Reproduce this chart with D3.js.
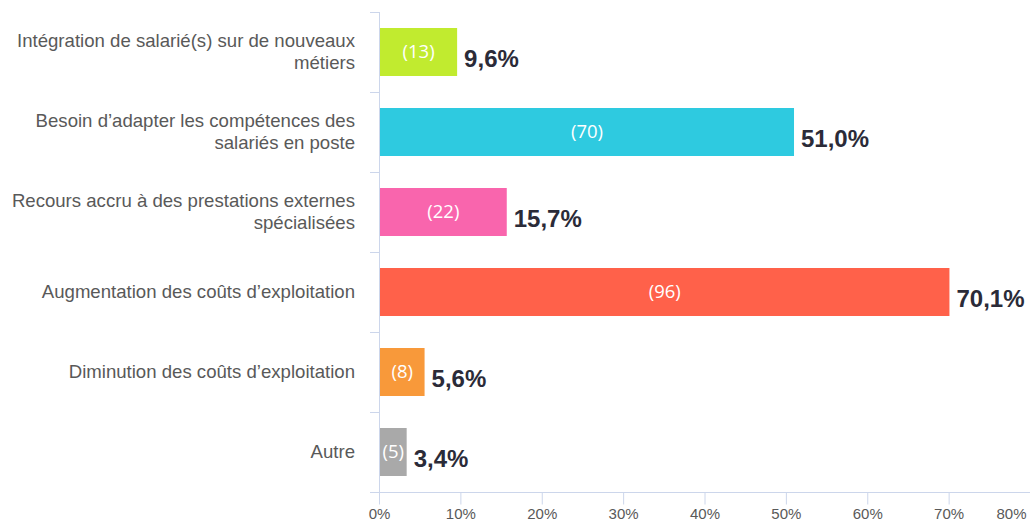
<!DOCTYPE html>
<html>
<head>
<meta charset="utf-8">
<script src="https://cdn.jsdelivr.net/npm/d3@7/dist/d3.min.js"></script>
<style>
  html, body { margin: 0; padding: 0; background: #fff; }
  svg { display: block; }
</style>
</head>
<body>
<svg id="chart" width="1030" height="524"></svg>
<script>
// Survey answers: share of respondents (%) and number of respondents
const categories = [
  ["Intégration de salarié(s) sur de nouveaux", "métiers"],
  ["Besoin d’adapter les compétences des", "salariés en poste"],
  ["Recours accru à des prestations externes", "spécialisées"],
  ["Augmentation des coûts d’exploitation"],
  ["Diminution des coûts d’exploitation"],
  ["Autre"]
];
const percentages = [9.6, 51.0, 15.7, 70.1, 5.6, 3.4];
const counts = [13, 70, 22, 96, 8, 5];
const barColors = ["#c1eb2f", "#2ecae0", "#f965ad", "#ff614a", "#f8993a", "#a9a9a9"];
const tickValues = [0, 10, 20, 30, 40, 50, 60, 70, 80];

const svg = d3.select("#chart");
const margin = { left: 379, right: 0, top: 12, bottom: 32 };
const W = 1030, H = 524;
const plotBottom = H - margin.bottom;

const x = d3.scaleLinear().domain([0, 80]).range([margin.left, 1030]);
const y = d3.scaleBand()
  .domain(d3.range(categories.length))
  .range([margin.top, plotBottom])
  .paddingInner(0.4)
  .paddingOuter(0.2);

const axisColor = "#ccd6eb";
const fmt = v => v.toFixed(1).replace(".", ",") + "%";

// Category axis: line plus ticks at band boundaries
const step = y.step();
const boundaries = d3.range(categories.length + 1).map(i => margin.top + i * step);
svg.append("line")
  .attr("x1", margin.left + 0.5).attr("x2", margin.left + 0.5)
  .attr("y1", margin.top).attr("y2", plotBottom)
  .attr("stroke", axisColor).attr("stroke-width", 1);
svg.selectAll(".ctick").data(boundaries).join("line")
  .attr("x1", margin.left - 9).attr("x2", margin.left)
  .attr("y1", d => Math.round(d) + 0.5).attr("y2", d => Math.round(d) + 0.5)
  .attr("stroke", axisColor);

// Value axis
const xAxis = svg.append("g")
  .attr("transform", `translate(0,${plotBottom + 0.5})`)
  .call(d3.axisBottom(x).tickValues(tickValues).tickSize(12).tickPadding(4)
    .tickFormat(d => d + "%"));
xAxis.select(".domain").attr("stroke", axisColor).attr("d", `M${margin.left},0H${W}`);
xAxis.selectAll(".tick line").attr("stroke", axisColor);
xAxis.selectAll(".tick text")
  .attr("fill", "#595959")
  .style("font-family", "'Liberation Sans', Arial, sans-serif")
  .style("font-size", "15px")
  .attr("text-anchor", d => d === 80 ? "end" : "middle")
  .attr("dx", d => d === 80 ? "-4" : "0");

// Category labels
const labels = svg.selectAll(".cat").data(categories).join("text")
  .attr("text-anchor", "end")
  .attr("fill", "#595959")
  .style("font-family", "'Liberation Sans', Arial, sans-serif")
  .style("font-size", "18.6px");
labels.each(function(lines, i) {
  const cy = y(i) + y.bandwidth() / 2;
  const lh = 22;
  const start = cy - (lines.length - 1) * lh / 2 + 6;
  d3.select(this).selectAll("tspan").data(lines).join("tspan")
    .attr("x", 355)
    .attr("y", (d, j) => start + j * lh)
    .text(d => d);
});

// Bars
svg.selectAll(".bar").data(percentages).join("rect")
  .attr("x", x(0) + 1)
  .attr("y", (d, i) => y(i))
  .attr("width", d => x(d) - x(0) - 1)
  .attr("height", y.bandwidth())
  .attr("fill", (d, i) => barColors[i]);

// Respondent counts inside the bars
svg.selectAll(".count").data(counts).join("text")
  .attr("x", (d, i) => (x(0) + 1 + x(percentages[i])) / 2)
  .attr("y", (d, i) => y(i) + y.bandwidth() / 2 + 6)
  .attr("text-anchor", "middle")
  .attr("fill", "#ffffff")
  .style("font-family", "'Open Sans', sans-serif")
  .style("font-size", "18.5px")
  .text(d => `(${d})`);

// Percentage labels after the bars
svg.selectAll(".pct").data(percentages).join("text")
  .attr("x", d => x(d) + 7)
  .attr("y", (d, i) => y(i) + y.bandwidth() / 2 + 15)
  .attr("fill", "#2b2b38")
  .style("font-family", "'Liberation Sans', Arial, sans-serif")
  .style("font-weight", "bold")
  .style("font-size", "24px")
  .text(d => fmt(d));
</script>
</body>
</html>
